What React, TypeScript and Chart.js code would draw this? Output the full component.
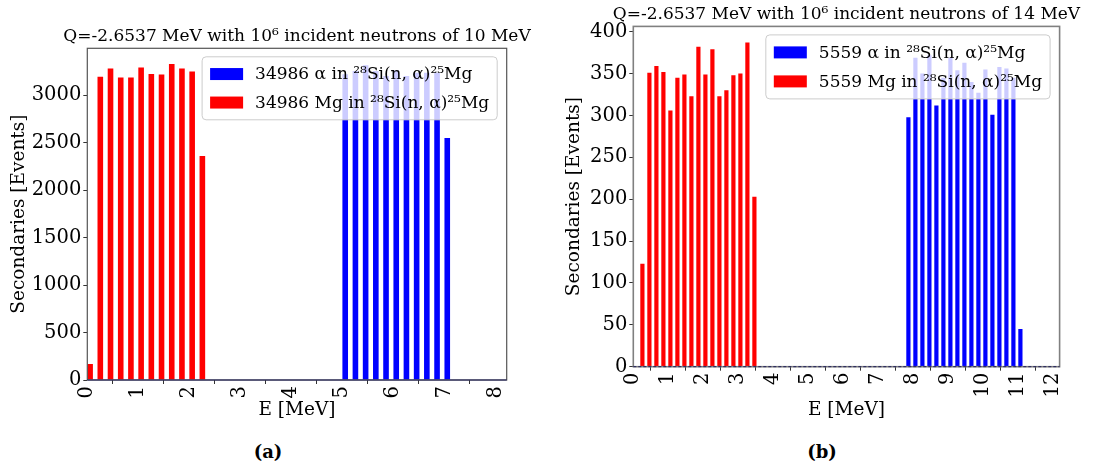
import React, { useEffect, useRef } from "react";
import { Chart, registerables } from "chart.js";

Chart.register(...registerables);

const FONT = '"DejaVu Serif", "Liberation Serif", serif';
const REACTION = "²⁸Si(n, α)²⁵Mg";

// ---- panel (a): 10 MeV incident neutrons ----
const TITLE_A = "Q=-2.6537 MeV with 10⁶ incident neutrons of 10 MeV";
const E_MG_A = [0.0, 0.2, 0.4, 0.6, 0.8, 1.0, 1.2, 1.4, 1.6, 1.8, 2.0, 2.2];
const MG_A = [169, 3195, 3283, 3188, 3188, 3294, 3225, 3220, 3329, 3283, 3252, 2360];
const E_ALPHA_A = [5.0, 5.2, 5.4, 5.6, 5.8, 6.0, 6.2, 6.4, 6.6, 6.8, 7.0];
const ALPHA_A = [3222, 3256, 3316, 3256, 3204, 3263, 3204, 3239, 3239, 3237, 2550];
const X_TICKS_A = [0, 1, 2, 3, 4, 5, 6, 7, 8];
const Y_TICKS_A = [0, 500, 1000, 1500, 2000, 2500, 3000];
const X_MAX_A = 8.22;

// ---- panel (b): 14 MeV incident neutrons ----
const TITLE_B = "Q=-2.6537 MeV with 10⁶ incident neutrons of 14 MeV";
const E_MG_B = [0.2, 0.4, 0.6, 0.8, 1.0, 1.2, 1.4, 1.6, 1.8, 2.0, 2.2, 2.4, 2.6, 2.8, 3.0, 3.2, 3.4];
const MG_B = [123, 351, 359, 352, 306, 345, 349, 323, 382, 349, 379, 323, 330, 348, 350, 387, 203];
const E_ALPHA_B = [7.8, 8.0, 8.2, 8.4, 8.6, 8.8, 9.0, 9.2, 9.4, 9.6, 9.8, 10.0, 10.2, 10.4, 10.6, 10.8, 11.0];
const ALPHA_B = [298, 369, 350, 372, 312, 345, 369, 354, 363, 340, 327, 355, 301, 358, 356, 345, 45];
const X_TICKS_B = [0, 1, 2, 3, 4, 5, 6, 7, 8, 9, 10, 11, 12];
const Y_TICKS_B = [0, 50, 100, 150, 200, 250, 300, 350, 400];
const X_MAX_B = 12.18;

const BIN_W = 0.2;

const total = (a: number[]) => a.reduce((s, v) => s + v, 0);

type Panel = {
  title: string;
  mgE: number[];
  mg: number[];
  alphaE: number[];
  alpha: number[];
  xTicks: number[];
  yTicks: number[];
  xMax: number;
  barW: number;
  left: number;
  width: number;
  height: number;
  pad: { top: number; left: number; right: number; bottom: number };
  yAxisW: number;
  xAxisH: number;
  titleY: number;
  frame: { color: string; width: number };
  zeroDash: number[];
  legend: { right: number; top: number; rowH: number; padY: number };
};

const PANEL_A: Panel = {
  title: TITLE_A,
  mgE: E_MG_A,
  mg: MG_A,
  alphaE: E_ALPHA_A,
  alpha: ALPHA_A,
  xTicks: X_TICKS_A,
  yTicks: Y_TICKS_A,
  xMax: X_MAX_A,
  barW: 0.11,
  left: 0,
  width: 540,
  height: 430,
  pad: { top: 48.3, left: 0, right: 33.3, bottom: 8.5 },
  yAxisW: 87.3,
  xAxisH: 41.5,
  titleY: 36.5,
  frame: { color: "#555555", width: 1.2 },
  zeroDash: [],
  legend: { right: 9.5, top: 8.5, rowH: 28.5, padY: 3 },
};

const PANEL_B: Panel = {
  title: TITLE_B,
  mgE: E_MG_B,
  mg: MG_B,
  alphaE: E_ALPHA_B,
  alpha: ALPHA_B,
  xTicks: X_TICKS_B,
  yTicks: Y_TICKS_B,
  xMax: X_MAX_B,
  barW: 0.12,
  left: 540,
  width: 554,
  height: 430,
  pad: { top: 26.4, left: 15, right: 34.4, bottom: 8.5 },
  yAxisW: 78.3,
  xAxisH: 54.8,
  titleY: 15,
  frame: { color: "#808080", width: 1.6 },
  zeroDash: [3, 2],
  legend: { right: 9.5, top: 8.5, rowH: 29, padY: 3 },
};

// Legend drawn inside the plot area on a translucent box.
const insideLegend = {
  id: "insideLegend",
  afterDatasetsDraw(chart: any, _args: any, opts: any) {
    const { ctx, chartArea } = chart;
    const items = chart.data.datasets.map((ds: any) => ({
      label: ds.label as string,
      color: ds.backgroundColor as string,
    }));
    ctx.save();
    ctx.font = `17px ${FONT}`;
    const textW = Math.max(...items.map((it: any) => ctx.measureText(it.label).width));
    const padX = 8;
    const patchW = 33;
    const gap = 12;
    const w = padX + patchW + gap + textW + padX;
    const h = opts.padY * 2 + opts.rowH * items.length;
    const x0 = chartArea.right - opts.right - w;
    const y0 = chartArea.top + opts.top;
    ctx.beginPath();
    ctx.roundRect(x0, y0, w, h, 4);
    ctx.fillStyle = "rgba(255,255,255,0.8)";
    ctx.fill();
    ctx.strokeStyle = "#cccccc";
    ctx.lineWidth = 1;
    ctx.stroke();
    items.forEach((it: any, i: number) => {
      const cy = y0 + opts.padY + opts.rowH * (i + 0.5);
      ctx.fillStyle = it.color;
      ctx.fillRect(x0 + padX, cy - 6, patchW, 12);
      ctx.fillStyle = "#000";
      ctx.textBaseline = "middle";
      ctx.textAlign = "left";
      ctx.fillText(it.label, x0 + padX + patchW + gap, cy + 1);
    });
    ctx.restore();
  },
};

// Axes frame, zero baseline and panel title.
const decor = {
  id: "decor",
  afterDraw(chart: any, _args: any, opts: any) {
    const { ctx, chartArea } = chart;
    const { left, right, top, bottom } = chartArea;
    ctx.save();
    ctx.strokeStyle = opts.frameColor;
    ctx.lineWidth = opts.frameWidth;
    ctx.strokeRect(left, top, right - left, bottom - top);

    const y0 = chart.scales.y.getPixelForValue(0);
    ctx.beginPath();
    ctx.setLineDash(opts.zeroDash);
    ctx.strokeStyle = "#1c1c5a";
    ctx.lineWidth = 1;
    ctx.moveTo(left, y0);
    ctx.lineTo(right, y0);
    ctx.stroke();
    ctx.setLineDash([]);

    ctx.fillStyle = "#000";
    ctx.font = `17px ${FONT}`;
    ctx.textAlign = "center";
    ctx.textBaseline = "middle";
    ctx.fillText(opts.title, (left + right) / 2, opts.titleY);
    ctx.restore();
  },
};

function makeConfig(p: Panel): any {
  const yMax = Math.max(...p.mg, ...p.alpha) * 1.05;
  const barPct = p.barW / BIN_W;
  const tickFont = { family: FONT, size: 19.5 };
  const titleFont = { family: FONT, size: 18.5 };
  const gridOpts = {
    display: true,
    drawOnChartArea: false,
    drawTicks: true,
    tickLength: 4,
    color: "#333333",
  };
  return {
    type: "bar",
    data: {
      datasets: [
        {
          label: `${total(p.alpha)} α in ${REACTION}`,
          data: p.alphaE.map((e, i) => ({ x: e + p.barW / 2, y: p.alpha[i] })),
          backgroundColor: "#0000ff",
          grouped: false,
          barPercentage: barPct,
          categoryPercentage: 1,
        },
        {
          label: `${total(p.mg)} Mg in ${REACTION}`,
          data: p.mgE.map((e, i) => ({ x: e + p.barW / 2, y: p.mg[i] })),
          backgroundColor: "#ff0000",
          grouped: false,
          barPercentage: barPct,
          categoryPercentage: 1,
        },
      ],
    },
    options: {
      responsive: false,
      animation: false,
      layout: { padding: p.pad },
      plugins: {
        legend: { display: false },
        tooltip: { enabled: false },
        title: { display: false },
        insideLegend: p.legend,
        decor: {
          frameColor: p.frame.color,
          frameWidth: p.frame.width,
          zeroDash: p.zeroDash,
          title: p.title,
          titleY: p.titleY,
        },
      },
      scales: {
        x: {
          type: "linear",
          min: 0,
          max: p.xMax,
          offset: false,
          grid: gridOpts,
          border: { display: false },
          ticks: {
            autoSkip: false,
            minRotation: 90,
            maxRotation: 90,
            padding: 2,
            color: "#000",
            font: tickFont,
            includeBounds: false,
            callback: (v: number) => String(v),
          },
          title: { display: true, text: "E [MeV]", color: "#000", font: titleFont, padding: 0 },
          afterBuildTicks: (s: any) => {
            s.ticks = p.xTicks.map((v) => ({ value: v }));
          },
          afterFit: (s: any) => {
            s.height = p.xAxisH;
          },
        },
        y: {
          type: "linear",
          min: 0,
          max: yMax,
          grid: gridOpts,
          border: { display: false },
          ticks: {
            padding: 2,
            color: "#000",
            font: tickFont,
            includeBounds: false,
            callback: (v: number) => String(v),
          },
          title: {
            display: true,
            text: "Secondaries [Events]",
            color: "#000",
            font: titleFont,
            padding: { top: 8, bottom: 0 },
          },
          afterBuildTicks: (s: any) => {
            s.ticks = p.yTicks.map((v) => ({ value: v }));
          },
          afterFit: (s: any) => {
            s.width = p.yAxisW;
          },
        },
      },
    },
    plugins: [insideLegend, decor],
  };
}

function PanelChart({ panel }: { panel: Panel }) {
  const ref = useRef<HTMLCanvasElement>(null);
  useEffect(() => {
    if (!ref.current) return;
    const chart = new Chart(ref.current, makeConfig(panel));
    return () => chart.destroy();
  }, [panel]);
  return (
    <canvas
      ref={ref}
      width={panel.width}
      height={panel.height}
      style={{ position: "absolute", left: panel.left, top: 0, display: "block" }}
    />
  );
}

const captionStyle = (cx: number): React.CSSProperties => ({
  position: "absolute",
  left: cx - 40,
  width: 80,
  top: 440,
  textAlign: "center",
  fontFamily: FONT,
  fontWeight: "bold",
  fontSize: 18,
  lineHeight: "24px",
  color: "#000",
});

export default function App() {
  return (
    <div
      style={{
        position: "fixed",
        left: 0,
        top: 0,
        width: 1094,
        height: 470,
        background: "#fff",
        overflow: "hidden",
      }}
    >
      <PanelChart panel={PANEL_A} />
      <PanelChart panel={PANEL_B} />
      <div style={captionStyle(268)}>(a)</div>
      <div style={captionStyle(822)}>(b)</div>
    </div>
  );
}
